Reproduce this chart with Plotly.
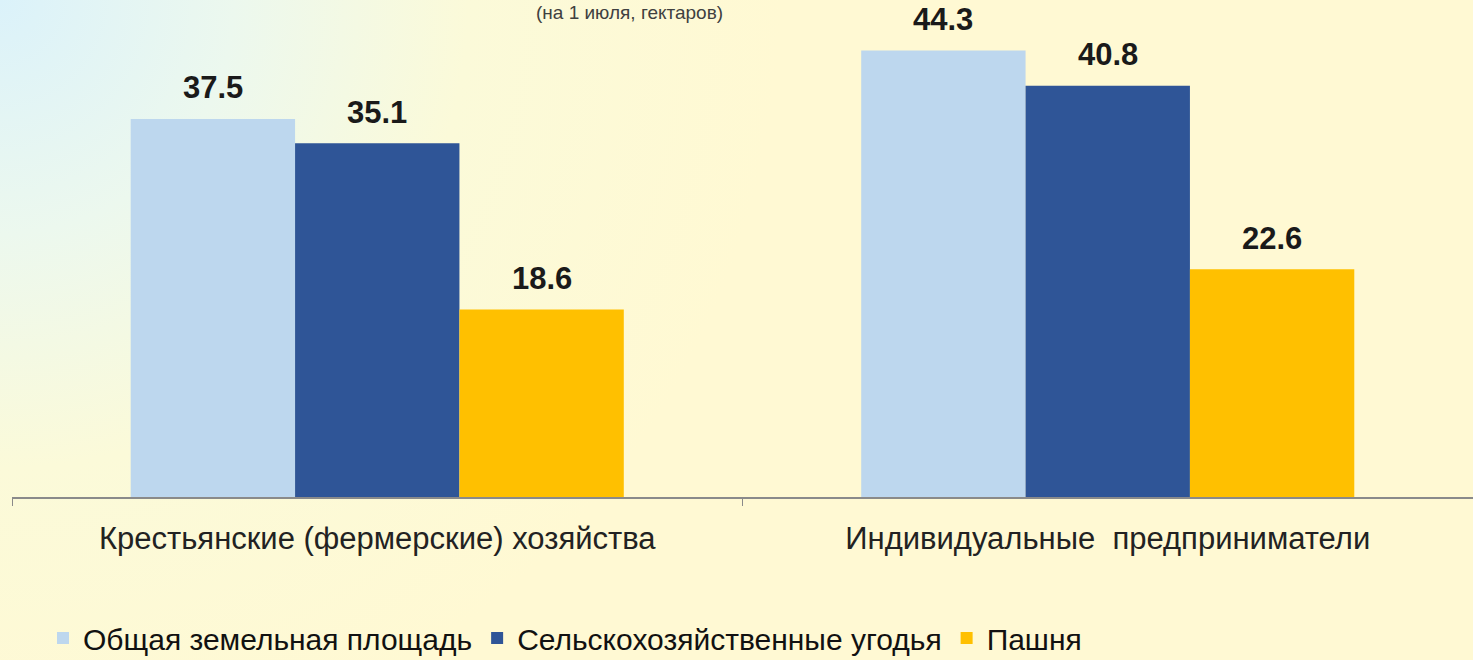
import base64
import plotly.graph_objects as go

categories = ["Крестьянские (фермерские) хозяйства", "Индивидуальные  предприниматели"]
series_names = ["Общая земельная площадь", "Сельскохозяйственные угодья", "Пашня"]
total_area = [37.5, 44.3]
agri_land = [35.1, 40.8]
arable = [18.6, 22.6]
series_values = [total_area, agri_land, arable]
colors = ["#BDD7EE", "#2F5597", "#FFC000"]
title_text = "(на 1 июля, гектаров)"

W, H = 1473, 660
ML, MR, MT, MB = 12, 0, 3, 163
BARGAP = 0.325
Y_MAX = 49

svg = f'''<svg xmlns="http://www.w3.org/2000/svg" width="{W}" height="{H}" viewBox="0 0 {W} {H}" preserveAspectRatio="none">
<defs><radialGradient id="g" gradientUnits="userSpaceOnUse" cx="0" cy="0" r="780">
<stop offset="0" stop-color="#DBF2FA"/>
<stop offset="0.3" stop-color="#ECF8EE"/>
<stop offset="0.6" stop-color="#FBFAD9"/>
<stop offset="1" stop-color="#FFF9D3"/>
</radialGradient></defs>
<rect x="0" y="0" width="{W}" height="{H}" fill="url(#g)"/></svg>'''
bg_uri = "data:image/svg+xml;base64," + base64.b64encode(svg.encode()).decode()

fig = go.Figure()
for name, vals, col in zip(series_names, series_values, colors):
    fig.add_trace(go.Bar(x=categories, y=vals, name=name, marker_color=col,
                         marker_line_width=0, hoverinfo="skip"))

pw = W - ML - MR
ph = H - MT - MB
bw = pw / len(categories) * (1 - BARGAP) / len(series_names)
annotations = []
for i, vals in enumerate(series_values):
    for cat, v in zip(categories, vals):
        annotations.append(dict(x=cat, y=v, xref="x", yref="y", text=f"<b>{v}</b>",
                                showarrow=False, xshift=(i - 1) * bw, yshift=31,
                                yanchor="middle",
                                font=dict(family="Liberation Sans, Arial", size=31, color="#1a1a1a")))
annotations.append(dict(x=(629 - ML) / pw, y=1 + MT / ph, xref="paper", yref="paper", text=title_text,
                        showarrow=False, yanchor="top", xanchor="center",
                        font=dict(family="Liberation Sans, Arial", size=19, color="#404040")))

fig.update_layout(
    width=W, height=H,
    margin=dict(l=ML, r=MR, t=MT, b=MB, autoexpand=False),
    barmode="group", bargap=BARGAP, bargroupgap=0,
    paper_bgcolor="#FFF9D4", plot_bgcolor="rgba(0,0,0,0)",
    images=[dict(source=bg_uri, xref="paper", yref="paper",
                 x=-ML / pw, y=1 + MT / ph, sizex=W / pw, sizey=H / ph,
                 xanchor="left", yanchor="top", sizing="stretch", layer="below")],
    annotations=annotations,
    showlegend=True,
    legend=dict(orientation="h", x=(43 - ML) / pw, xanchor="left", y=-(638 - 497) / ph,
                yanchor="middle", bgcolor="rgba(0,0,0,0)",
                font=dict(family="Liberation Sans, Arial", size=30, color="#111111"),
                itemclick=False, itemdoubleclick=False),
    xaxis=dict(showline=True, linecolor="#8a8a8a", linewidth=1.5, ticks="outside",
               tickson="boundaries", ticklen=7, tickcolor="#8a8a8a", tickwidth=1.2,
               ticklabelstandoff=13, showgrid=False, automargin=False,
               tickfont=dict(family="Liberation Sans, Arial", size=31, color="#222222")),
    yaxis=dict(range=[0, Y_MAX], visible=False, showgrid=False, zeroline=False, automargin=False),
)

fig.write_html("out.html", config={"displayModeBar": False},
               post_script="document.body.style.margin='0';document.body.style.overflow='hidden';")
